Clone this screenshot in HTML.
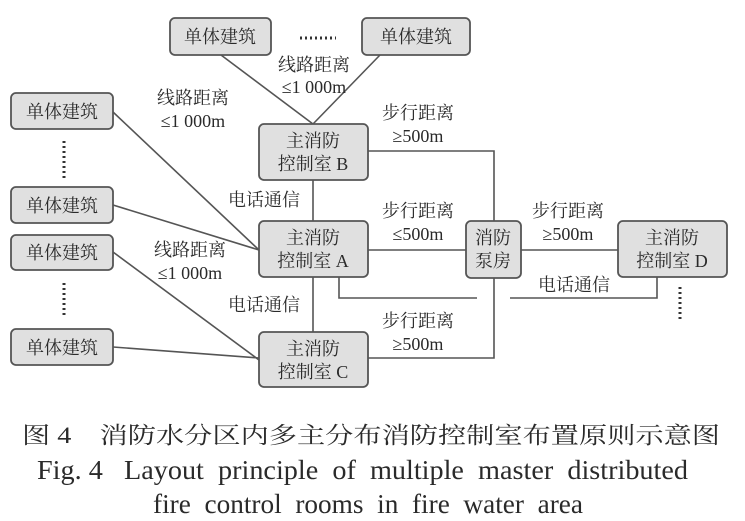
<!DOCTYPE html>
<html><head><meta charset="utf-8"><style>
html,body{margin:0;padding:0;background:#fff;}
svg{display:block;}
text{fill:#2a2a2a;white-space:pre;}
.c{font-family:"Liberation Serif","Noto Serif CJK SC",serif;font-size:18px;}
</style></head><body>
<svg width="745" height="521" viewBox="0 0 745 521" xmlns="http://www.w3.org/2000/svg">
<g stroke="#555" stroke-width="1.6" fill="none">
<line x1="221" y1="55" x2="313" y2="124"/>
<line x1="380" y1="55" x2="313" y2="124"/>
<line x1="113" y1="112" x2="259" y2="250"/>
<line x1="113" y1="205" x2="259" y2="250"/>
<line x1="113" y1="252" x2="259" y2="360"/>
<line x1="113" y1="347" x2="259" y2="358"/>
<line x1="313" y1="180" x2="313" y2="221"/>
<line x1="313" y1="277" x2="313" y2="332"/>
<polyline points="368,151 494,151 494,221"/>
<line x1="368" y1="250" x2="466" y2="250"/>
<line x1="521" y1="250" x2="618" y2="250"/>
<polyline points="494,278 494,358 368,358"/>
<polyline points="339,277 339,298 477,298"/>
<polyline points="510,298 657,298 657,277"/>
</g>
<g stroke="#333" stroke-width="3" stroke-dasharray="2,3" fill="none">
<line x1="300" y1="38" x2="336" y2="38"/>
<line x1="64" y1="141" x2="64" y2="178"/>
<line x1="64" y1="283" x2="64" y2="318"/>
<line x1="680" y1="287" x2="680" y2="322"/>
</g>
<g fill="#e0e0e0" stroke="#555" stroke-width="1.8">
<rect x="170" y="18" width="101" height="37" rx="5"/>
<rect x="362" y="18" width="108" height="37" rx="5"/>
<rect x="11" y="93" width="102" height="36" rx="5"/>
<rect x="11" y="187" width="102" height="36" rx="5"/>
<rect x="11" y="235" width="102" height="35" rx="5"/>
<rect x="11" y="329" width="102" height="36" rx="5"/>
<rect x="259" y="124" width="109" height="56" rx="5"/>
<rect x="259" y="221" width="109" height="56" rx="5"/>
<rect x="259" y="332" width="109" height="55" rx="5"/>
<rect x="466" y="221" width="55" height="57" rx="5"/>
<rect x="618" y="221" width="109" height="56" rx="5"/>
</g>
<g class="c" text-anchor="middle">
<text x="220" y="43">单体建筑</text>
<text x="416" y="43">单体建筑</text>
<text x="62" y="118">单体建筑</text>
<text x="62" y="212">单体建筑</text>
<text x="62" y="259">单体建筑</text>
<text x="62" y="354">单体建筑</text>
<text x="313" y="147">主消防</text><text x="313" y="170">控制室 B</text>
<text x="313" y="244">主消防</text><text x="313" y="267">控制室 A</text>
<text x="313" y="355">主消防</text><text x="313" y="378">控制室 C</text>
<text x="493" y="244">消防</text><text x="493" y="267">泵房</text>
<text x="672" y="244">主消防</text><text x="672" y="267">控制室 D</text>
<text x="314" y="71">线路距离</text><text x="314" y="93">≤1 000m</text>
<text x="193" y="104">线路距离</text><text x="193" y="127">≤1 000m</text>
<text x="190" y="256">线路距离</text><text x="190" y="279">≤1 000m</text>
<text x="264" y="206">电话通信</text>
<text x="264" y="311">电话通信</text>
<text x="418" y="119">步行距离</text><text x="418" y="142">≥500m</text>
<text x="418" y="217">步行距离</text><text x="418" y="240">≤500m</text>
<text x="568" y="217">步行距离</text><text x="568" y="240">≥500m</text>
<text x="574" y="291">电话通信</text>
<text x="418" y="327">步行距离</text><text x="418" y="350">≥500m</text>
</g>
<text x="22" y="443" font-family="Liberation Serif,Noto Serif CJK SC,serif" font-size="23" textLength="698" lengthAdjust="spacingAndGlyphs">图 4　消防水分区内多主分布消防控制室布置原则示意图</text>
<text x="37" y="479" font-family="Liberation Serif,serif" font-size="27" textLength="651" lengthAdjust="spacingAndGlyphs">Fig. 4   Layout  principle  of  multiple  master  distributed</text>
<text x="153" y="513" font-family="Liberation Serif,serif" font-size="27" textLength="430" lengthAdjust="spacingAndGlyphs">fire  control  rooms  in  fire  water  area</text>
</svg>
</body></html>
